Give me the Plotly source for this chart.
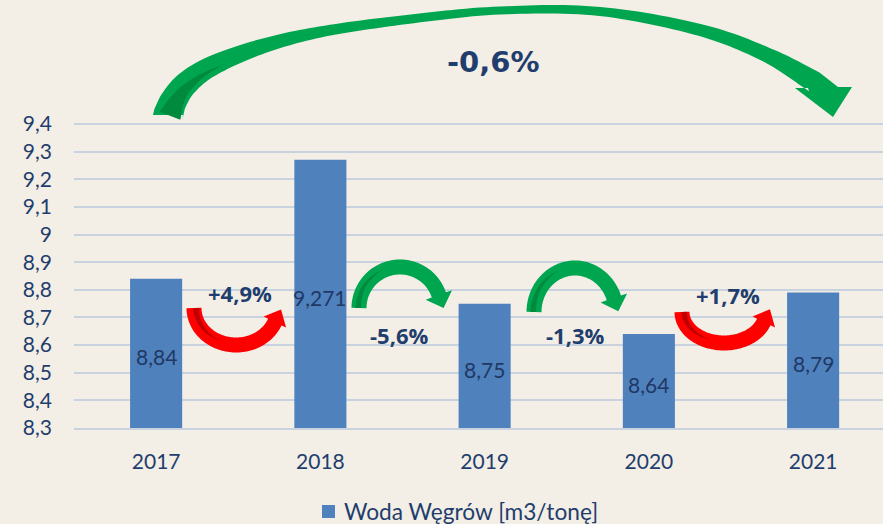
import numpy as np
import plotly.graph_objects as go

# ---------------- data ----------------
years = ["2017", "2018", "2019", "2020", "2021"]
values = [8.84, 9.271, 8.75, 8.64, 8.79]
y_ticks = [8.3, 8.4, 8.5, 8.6, 8.7, 8.8, 8.9, 9.0, 9.1, 9.2, 9.3, 9.4]
y_tick_labels = ["8,3", "8,4", "8,5", "8,6", "8,7", "8,8", "8,9", "9", "9,1", "9,2", "9,3", "9,4"]
series_name = "Woda Węgrów [m3/tonę]"


def pct(a, b):
    v = (b / a - 1) * 100
    return f"{v:+.1f}%".replace(".", ",")


bar_labels = [f"{v:g}".replace(".", ",") for v in values]
step_changes = [pct(values[i], values[i + 1]) for i in range(len(values) - 1)]
total_change = pct(values[0], values[-1])

# ---------------- layout constants ----------------
W, H = 883, 524
ML, MR, MT, MB = 74, 0, 0, 96
PW = W - ML - MR
PH = H - MT - MB
CAT_PX = 164.25
UNIT_PX = 276.36
X_RANGE = [-0.5, -0.5 + PW / CAT_PX]
Y_RANGE = [8.3, 8.3 + PH / UNIT_PX]

TEXT_COL = "#1F3E6D"
BAR_TXT = "#1F3864"
BAR_COL = "#4F81BD"
GRID_COL = "#C9D3E0"
BG = "#F3EEE6"
GREEN = "#00A54F"
GREEN_DK = "#008A3E"
RED = "#FF0000"
RED_DK = "#C00000"


def to_data(px, py):
    return (X_RANGE[0] + (px - ML) / CAT_PX, Y_RANGE[0] + (MT + PH - py) / UNIT_PX)


def to_paper(px, py):
    return ((px - ML) / PW, (MT + PH - py) / PH)


def poly_path(pts):
    out = []
    for i, (px, py) in enumerate(pts):
        x, y = to_data(px, py)
        out.append(("M" if i == 0 else "L") + f"{x:.5f},{y:.5f}")
    return " ".join(out) + " Z"


def frame(c):
    c = np.asarray(c, dtype=float)
    t = np.gradient(c, axis=0)
    t /= np.linalg.norm(t, axis=1, keepdims=True)
    n = np.stack([-t[:, 1], t[:, 0]], axis=1)
    return t, n


shapes = []


def add_poly(pts, color):
    shapes.append(dict(type="path", path=poly_path(pts), fillcolor=color,
                       line=dict(width=0), xref="x", yref="y", layer="above"))


def stripe(c, n, thick, k, lo0, hi0, end, color):
    c = c[:k]
    n = n[:k]
    th = thick[:k]
    tap = np.linspace(1, 0, k) ** 0.8
    lo = end + (lo0 - end) * tap
    hi = end + (hi0 - end) * tap
    a = c + n * (lo * th)[:, None]
    b = c + n * (hi * th)[:, None]
    add_poly(list(a) + list(b[::-1]), color)


def arc_arrow(cx, cy, rx, ry, over, th, head_w, head_len, end_sin, color, dark, s_lo, s_hi, s_end, s_frac):
    ang = np.linspace(np.pi, np.arcsin(end_sin), 70)
    sgn = -1 if over else 1
    c = np.stack([cx + rx * np.cos(ang), cy + sgn * ry * np.sin(ang)], axis=1)
    t, n = frame(c)
    thick = np.full(len(ang), float(th))
    a = c - n * th / 2
    b = c + n * th / 2
    E, T, N = c[-1], t[-1], n[-1]
    w1 = E - N * head_w / 2
    tip = E + T * head_len
    w2 = E + N * head_w / 2
    add_poly(list(a) + [w1, tip, w2] + list(b[::-1]), color)
    stripe(c, n, thick, int(len(ang) * s_frac), s_lo, s_hi, s_end, dark)


# small arrows between bars (pixel geometry)
arc_arrow(236, 308, 42, 37, False, 15, 25, 14, 0.38, RED, RED_DK, -0.34, 0.05, -0.1, 0.45)
arc_arrow(400, 308, 41, 41, True, 15, 28, 14, 0.32, GREEN, GREEN_DK, -0.25, 0.14, -0.05, 0.42)
arc_arrow(575, 312, 41, 44, True, 15, 28, 14, 0.32, GREEN, GREEN_DK, -0.25, 0.14, -0.05, 0.42)
arc_arrow(724, 312, 42, 31, False, 15, 25, 14, 0.32, RED, RED_DK, -0.34, 0.05, -0.1, 0.45)

# big arrow across the whole period
ctrl = np.array([(168, 115), (174, 100), (187, 83), (212, 66), (260, 47), (320, 32),
                 (407, 19.5), (500, 10.5), (600, 11.5), (700, 30), (767, 55), (818, 84)], dtype=float)
ctrl_th = np.array([30, 27, 24, 20, 15, 11, 9, 8, 9, 12, 15, 22], dtype=float)


def catmull(P, TH, m=14):
    P = np.vstack([2 * P[0] - P[1], P, 2 * P[-1] - P[-2]])
    pts, ths = [], []
    for i in range(1, len(P) - 2):
        p0, p1, p2, p3 = P[i - 1], P[i], P[i + 1], P[i + 2]
        for j in range(m):
            u = j / m
            pts.append(0.5 * ((2 * p1) + (-p0 + p2) * u + (2 * p0 - 5 * p1 + 4 * p2 - p3) * u ** 2
                              + (-p0 + 3 * p1 - 3 * p2 + p3) * u ** 3))
            ths.append(TH[i - 1] + (TH[i] - TH[i - 1]) * u)
    pts.append(P[-2])
    ths.append(TH[-1])
    return np.array(pts), np.array(ths)


bc, bth = catmull(ctrl, ctrl_th)
bt, bn = frame(bc)
ba = bc - bn * (bth / 2)[:, None]
bb = bc + bn * (bth / 2)[:, None]
ba[0] = (153, 115)
bb[0] = (183, 115)
ba[-1] = (838, 87)
bb[-1] = (808, 88)
head = [(852, 87), (833, 117), (795, 88)]
add_poly(list(ba) + head + list(bb[::-1]), GREEN)
stripe(bc, bn, bth, int(len(bc) * 0.3), -0.3, 0.44, 0.2, GREEN_DK)

# legend swatch (drawn by hand so the legend does not push the margins)
lx0, ly0 = to_paper(322, 518)
lx1, ly1 = to_paper(335, 505)
shapes.append(dict(type="rect", xref="paper", yref="paper", x0=lx0, x1=lx1, y0=ly0, y1=ly1,
                   fillcolor=BAR_COL, line=dict(width=0)))

# ---------------- figure ----------------
fig = go.Figure()
fig.add_trace(go.Bar(
    x=list(range(len(years))), y=values, name=series_name,
    marker=dict(color=BAR_COL, line=dict(width=0)), width=0.317,
    hoverinfo="skip", showlegend=False,
))

annotations = []
# value labels in the middle of the visible part of each bar
for i, (v, lab) in enumerate(zip(values, bar_labels)):
    annotations.append(dict(x=i, y=(Y_RANGE[0] + v) / 2 - 3.5 / UNIT_PX, xref="x", yref="y",
                            text=lab, showarrow=False,
                            font=dict(family="Lato", size=21, color=BAR_TXT)))

lab_pos = [(240, 293), (399, 335), (575, 335), (728, 295)]
for s, (px, py) in zip(step_changes, lab_pos):
    x, y = to_data(px, py)
    annotations.append(dict(x=x, y=y, xref="x", yref="y", text=f"<b>{s}</b>", showarrow=False,
                            font=dict(family="Open Sans", size=22, color=TEXT_COL)))
x, y = to_data(493, 62)
annotations.append(dict(x=x, y=y, xref="x", yref="y", text=f"<b>{total_change}</b>", showarrow=False,
                        font=dict(family="DejaVu Sans", size=29, color=TEXT_COL)))

# legend text
tx, ty = to_paper(342, 512)
annotations.append(dict(x=tx, y=ty, xref="paper", yref="paper", text=series_name, showarrow=False,
                        xanchor="left", yanchor="middle",
                        font=dict(family="Lato", size=22.7, color=TEXT_COL)))

fig.update_layout(
    template="none",
    width=W, height=H,
    margin=dict(l=ML, r=MR, t=MT, b=MB, pad=0),
    paper_bgcolor=BG, plot_bgcolor=BG,
    font=dict(family="Lato", color=TEXT_COL, size=21),
    shapes=shapes,
    annotations=annotations,
    showlegend=False,
    xaxis=dict(range=X_RANGE, tickvals=list(range(len(years))), ticktext=years, showgrid=False,
               zeroline=False, showline=True, linecolor=GRID_COL, linewidth=2, ticks="",
               tickfont=dict(family="Lato", size=21, color=TEXT_COL), ticklabelstandoff=14,
               automargin=False, fixedrange=True),
    yaxis=dict(range=Y_RANGE, tickvals=y_ticks, ticktext=y_tick_labels, showgrid=True,
               gridcolor=GRID_COL, gridwidth=2, zeroline=False, showline=False, ticks="",
               tickfont=dict(family="Lato", size=21, color=TEXT_COL), ticklabelstandoff=21,
               automargin=False, fixedrange=True),
)

PAGE_JS = (
    "var de=document.documentElement, b=document.body;"
    "[de,b].forEach(function(e){e.style.margin='0';e.style.padding='0';e.style.overflow='hidden';"
    "e.style.background='" + BG + "';});"
    "var g=document.getElementsByClassName('plotly-graph-div')[0];"
    "g.style.position='absolute';g.style.left='0px';g.style.top='0px';"
)

fig.write_html("out.html", config={"displayModeBar": False}, post_script=PAGE_JS)
